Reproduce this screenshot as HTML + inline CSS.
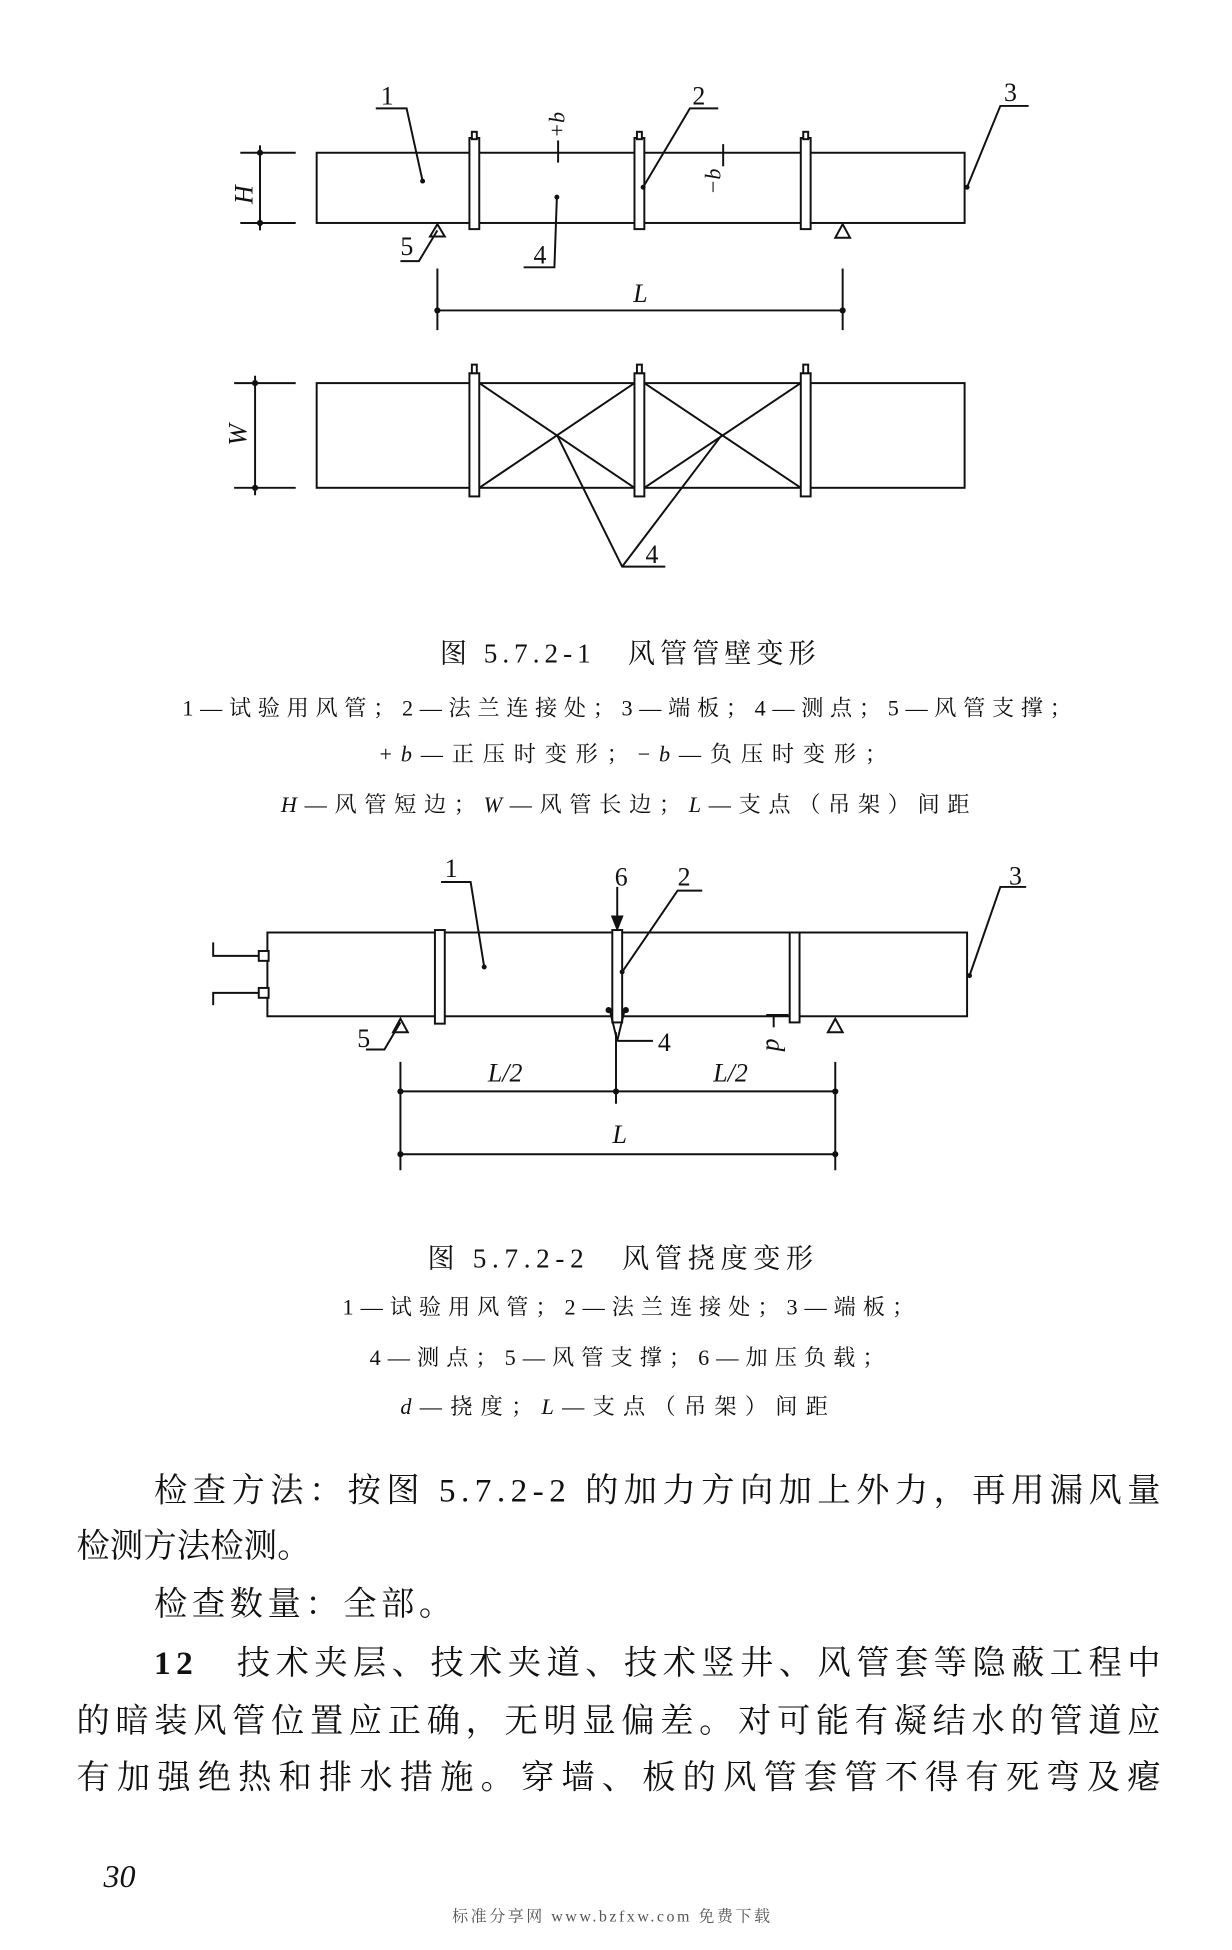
<!DOCTYPE html>
<html><head><meta charset="utf-8"><style>
html,body{margin:0;padding:0;background:#fff;}
svg{display:block;}
text{font-family:"Liberation Serif","Noto Serif CJK SC",serif;fill:#111;}
</style></head><body>
<svg width="1232" height="1950" viewBox="0 0 1000 1583" xmlns="http://www.w3.org/2000/svg">
<g stroke="#111" stroke-width="1.6" fill="none">
<rect x="257" y="124" width="526" height="57"/>
<line x1="195" y1="124" x2="240" y2="124"/><line x1="195" y1="181" x2="240" y2="181"/>
<line x1="211" y1="118" x2="211" y2="187"/>
<g fill="#fff">
<rect x="381" y="112" width="8" height="74"/><rect x="383" y="107" width="4" height="6"/>
<rect x="515" y="112" width="8" height="74"/><rect x="517" y="107" width="4" height="6"/>
<rect x="650" y="112" width="8" height="74"/><rect x="652" y="107" width="4" height="6"/>
</g>
<polygon points="355,182 349,192 361,192"/><polygon points="684,182 678,193 690,193"/>
<polyline points="305,88 330,88 343,147"/>
<polyline points="583,88 560,88 522,152"/>
<polyline points="835,86 812,86 785,152"/>
<polyline points="425,217 450,217 452,160"/>
<polyline points="325,212 340,212 355,187"/>
<line x1="355" y1="218" x2="355" y2="268"/><line x1="684" y1="218" x2="684" y2="268"/>
<line x1="355" y1="252" x2="684" y2="252"/>
<line x1="453" y1="114" x2="453" y2="132"/><line x1="587" y1="117" x2="587" y2="135"/>
<rect x="257" y="311" width="526" height="85"/>
<line x1="190" y1="311" x2="240" y2="311"/><line x1="190" y1="396" x2="240" y2="396"/>
<line x1="207" y1="305" x2="207" y2="402"/>
<line x1="389" y1="311" x2="515" y2="396"/><line x1="389" y1="396" x2="515" y2="311"/>
<line x1="523" y1="311" x2="650" y2="396"/><line x1="523" y1="396" x2="650" y2="311"/>
<g fill="#fff">
<rect x="381" y="303" width="8" height="100"/><rect x="383" y="296" width="4" height="7"/>
<rect x="515" y="303" width="8" height="100"/><rect x="517" y="296" width="4" height="7"/>
<rect x="650" y="303" width="8" height="100"/><rect x="652" y="296" width="4" height="7"/>
</g>
<polyline points="452,353 505,460 540,460"/><line x1="586" y1="353" x2="505" y2="460"/>
<rect x="217" y="757" width="568" height="68"/>
<polyline points="173,765 173,776 217,776"/><polyline points="173,816 173,806 217,806"/>
<rect x="210" y="772" width="8" height="8" fill="#fff"/><rect x="210" y="802" width="8" height="8" fill="#fff"/>
<g fill="#fff">
<rect x="353" y="755" width="8" height="76"/>
<rect x="497" y="755" width="8" height="75"/>
<rect x="641" y="757" width="8" height="73"/>
</g>
<polyline points="495,820 501,845 507,820"/>
<line x1="501" y1="720" x2="501" y2="752"/><polygon points="497,744 505,744 501,754" fill="#111"/>
<polygon points="325,827 319,838 331,838"/><polygon points="678,827 672,838 684,838"/>
<polyline points="358,716 382,716 393,785"/>
<polyline points="570,723 550,723 505,789"/>
<polyline points="833,720 812,720 787,792"/>
<polyline points="501,845 530,845"/>
<polyline points="297,852 312,852 325,830"/>
<line x1="628" y1="825" x2="628" y2="834"/><line x1="622" y1="824" x2="640" y2="824"/>
<line x1="325" y1="862" x2="325" y2="950"/><line x1="678" y1="862" x2="678" y2="950"/>
<line x1="500" y1="838" x2="500" y2="896"/>
<line x1="325" y1="886" x2="678" y2="886"/>
<line x1="325" y1="937" x2="678" y2="937"/>
</g>
<g fill="#111">
<circle cx="343" cy="147" r="2"/><circle cx="522" cy="152" r="2"/><circle cx="785" cy="152" r="2"/><circle cx="452" cy="160" r="2"/>
<circle cx="211" cy="124" r="2.5"/><circle cx="211" cy="181" r="2.5"/><circle cx="207" cy="311" r="2.5"/><circle cx="207" cy="396" r="2.5"/>
<circle cx="355" cy="252" r="2.5"/><circle cx="684" cy="252" r="2.5"/>
<circle cx="393" cy="785" r="2"/><circle cx="505" cy="789" r="2"/><circle cx="787" cy="792" r="2"/>
<circle cx="325" cy="886" r="2.5"/><circle cx="500" cy="886" r="2.5"/><circle cx="678" cy="886" r="2.5"/>
<circle cx="325" cy="937" r="2.5"/><circle cx="678" cy="937" r="2.5"/>
<circle cx="494" cy="820" r="2.5"/><circle cx="508" cy="820" r="2.5"/>
</g>
<g font-size="21">
<text x="309" y="85">1</text><text x="562" y="85">2</text><text x="815" y="82">3</text>
<text x="433" y="214">4</text><text x="325" y="207">5</text>
<text x="514" y="245" font-style="italic">L</text>
<text x="205" y="158" font-style="italic" transform="rotate(-90 205 158)" text-anchor="middle">H</text>
<text x="200" y="353" font-style="italic" transform="rotate(-90 200 353)" text-anchor="middle">W</text>
<text x="458" y="112" font-style="italic" font-size="18" transform="rotate(-90 458 112)">+b</text>
<text x="585" y="158" font-style="italic" font-size="18" transform="rotate(-90 585 158)">−b</text>
<text x="524" y="457">4</text>
<text x="361" y="712">1</text><text x="499" y="719">6</text><text x="550" y="719">2</text><text x="819" y="718">3</text>
<text x="534" y="853">4</text><text x="290" y="850">5</text>
<text x="622" y="843" font-style="italic" transform="rotate(90 622 843)">d</text>
<text x="410" y="878" font-style="italic" text-anchor="middle">L/2</text>
<text x="593" y="878" font-style="italic" text-anchor="middle">L/2</text>
<text x="503" y="928" font-style="italic" text-anchor="middle">L</text>
</g>
<text x="357" y="538" font-size="22" textLength="305">图 5.7.2-1　风管管壁变形</text>
<g font-size="18">
<text x="148" y="581" textLength="722">1—试验用风管；2—法兰连接处；3—端板；4—测点；5—风管支撑；</text>
<text x="308" y="618" textLength="412">+<tspan font-style="italic">b</tspan>—正压时变形；−<tspan font-style="italic">b</tspan>—负压时变形；</text>
<text x="228" y="659" textLength="559"><tspan font-style="italic">H</tspan>—风管短边；<tspan font-style="italic">W</tspan>—风管长边；<tspan font-style="italic">L</tspan>—支点（吊架）间距</text>
</g>
<text x="347" y="1029" font-size="22" textLength="313">图 5.7.2-2　风管挠度变形</text>
<g font-size="18">
<text x="278" y="1067" textLength="464">1—试验用风管；2—法兰连接处；3—端板；</text>
<text x="300" y="1108" textLength="418">4—测点；5—风管支撑；6—加压负载；</text>
<text x="325" y="1148" textLength="347"><tspan font-style="italic">d</tspan>—挠度；<tspan font-style="italic">L</tspan>—支点（吊架）间距</text>
</g>
<g font-size="27">
<text x="125" y="1219" textLength="817">检查方法：按图 5.7.2-2 的加力方向加上外力，再用漏风量</text>
<text x="62" y="1264" textLength="190">检测方法检测。</text>
<text x="125" y="1311" textLength="242">检查数量：全部。</text>
<text x="125" y="1359" textLength="817"><tspan font-weight="bold">12</tspan>　技术夹层、技术夹道、技术竖井、风管套等隐蔽工程中</text>
<text x="62" y="1406" textLength="880">的暗装风管位置应正确，无明显偏差。对可能有凝结水的管道应</text>
<text x="62" y="1452" textLength="880">有加强绝热和排水措施。穿墙、板的风管套管不得有死弯及瘪</text>
</g>
<text x="84" y="1532" font-size="26" font-style="italic">30</text>
<text x="367" y="1560" font-size="13" textLength="258" style="fill:#555">标准分享网 www.bzfxw.com 免费下载</text>
</svg>
</body></html>
